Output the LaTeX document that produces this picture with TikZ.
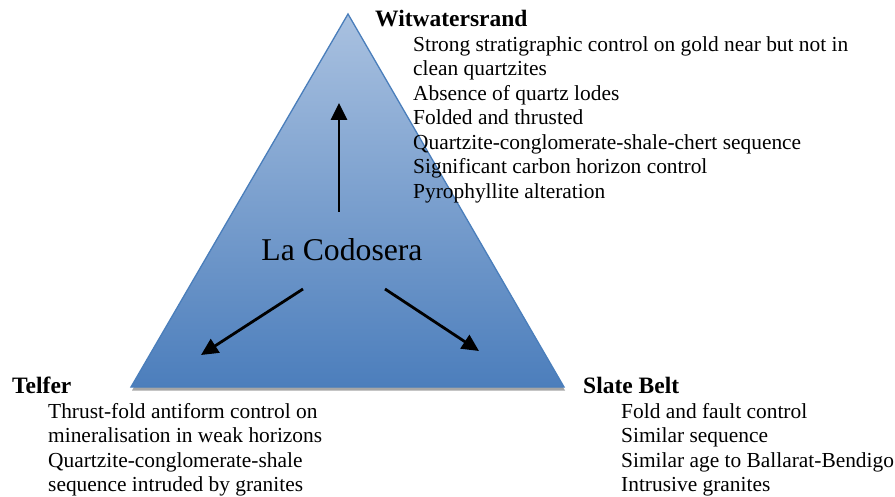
\documentclass[tikz,border=0pt]{standalone}
\usepackage{fontspec}
\setmainfont{Liberation Serif}
\usetikzlibrary{arrows.meta}
\definecolor{triedge}{HTML}{4A7EBB}
\definecolor{tritop}{HTML}{A9C1E0}
\definecolor{tribot}{HTML}{4C7EBC}
\tikzset{
  body/.style={anchor=base west, inner sep=0pt, font=\fontsize{21.4}{24.5}\selectfont},
  head/.style={anchor=base west, inner sep=0pt, font=\fontsize{23.5}{26}\selectfont\bfseries},
  bigarrow/.style={line width=2.8pt, -{Triangle[length=17pt,width=16pt]}}
}
\begin{document}
\begin{tikzpicture}[x=1pt,y=-1pt]
\useasboundingbox (0,0) rectangle (895,497);
% shadow
\fill[black!35] (348.5,17) -- (132,390.5) -- (565,390.5) -- cycle;
% triangle
\path[top color=tritop, bottom color=tribot, draw=triedge, line width=1.3pt, line join=miter]
  (348,14) -- (131,387) -- (564,387) -- cycle;
\node[inner sep=0pt, font=\fontsize{31.7}{34}\selectfont] (lc) at (342,250) {La Codosera};
% arrows
\coordinate (u0) at (339,212); \coordinate (u1) at (339,103);
\coordinate (l0) at (303,289); \coordinate (l1) at (201,355);
\coordinate (r0) at (385,289); \coordinate (r1) at (479,351);
\draw[bigarrow] (u0) -- (u1);
\draw[bigarrow] (l0) -- (l1);
\draw[bigarrow] (r0) -- (r1);
% Witwatersrand
\node[head] (wh) at (375,27) {Witwatersrand};
\node[body] (w1) at (413,51.5) {Strong stratigraphic control on gold near but not in};
\node[body] (w2) at (413,76) {clean quartzites};
\node[body] (w3) at (413,100.5) {Absence of quartz lodes};
\node[body] (w4) at (413,125) {Folded and thrusted};
\node[body] (w5) at (413,149.5) {Quartzite-conglomerate-shale-chert sequence};
\node[body] (w6) at (413,174) {Significant carbon horizon control};
\node[body] (w7) at (413,198.5) {Pyrophyllite alteration};
% Telfer
\node[head] (th) at (12,393.5) {Telfer};
\node[body] (t1) at (48,418) {Thrust-fold antiform control on};
\node[body] (t2) at (48,442.5) {mineralisation in weak horizons};
\node[body] (t3) at (48,467) {Quartzite-conglomerate-shale};
\node[body] (t4) at (48,491.5) {sequence intruded by granites};
% Slate Belt
\node[head] (sh) at (583,393.5) {Slate Belt};
\node[body] (s1) at (621,418) {Fold and fault control};
\node[body] (s2) at (621,442.5) {Similar sequence};
\node[body] (s3) at (621,467) {Similar age to Ballarat-Bendigo};
\node[body] (s4) at (621,491.5) {Intrusive granites};
\end{tikzpicture}
\end{document}
